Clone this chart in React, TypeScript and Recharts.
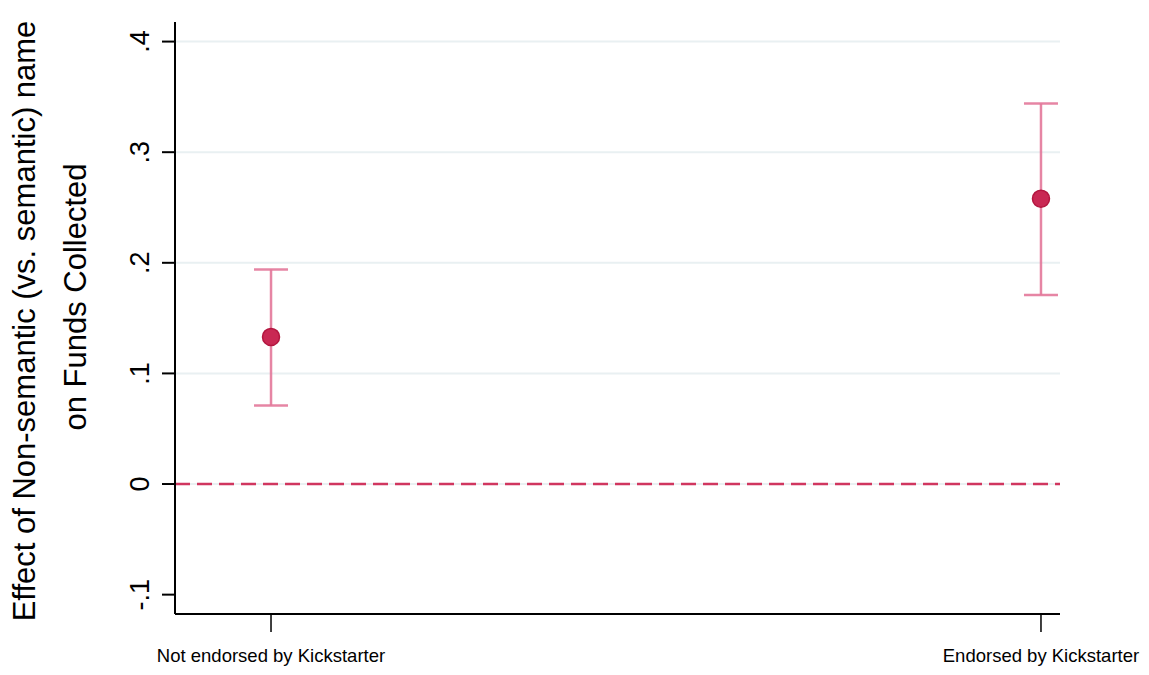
import React from 'react';
import {
  ComposedChart,
  Scatter,
  XAxis,
  YAxis,
  ErrorBar,
  ReferenceLine,
  Label,
} from 'recharts';

// group positions on the x axis and their labels
const groupPos = [0, 1];
const groupLabels = ['Not endorsed by Kickstarter', 'Endorsed by Kickstarter'];

// point estimates and 95% CI bounds
const estimates = [0.133, 0.258];
const ciLow = [0.071, 0.171];
const ciHigh = [0.194, 0.344];

const yTicks = [-0.1, 0, 0.1, 0.2, 0.3, 0.4];
const gridValues = [0, 0.1, 0.2, 0.3, 0.4];

const FONT = '"Liberation Sans", Arial, sans-serif';

const data = groupPos.map((x, i) => ({
  x,
  y: estimates[i],
  err: [estimates[i] - ciLow[i], ciHigh[i] - estimates[i]],
}));

const fmtY = (v: number) => {
  if (Math.abs(v) < 1e-9) return '0';
  return v.toFixed(1).replace('0.', '.');
};

const YTick = (props: any) => {
  const { y, payload } = props;
  const tx = 149;
  return (
    <text
      x={tx}
      y={y}
      transform={`rotate(-90 ${tx} ${y})`}
      textAnchor="middle"
      fontSize={27}
      fontFamily={FONT}
      fill="#000"
    >
      {fmtY(payload.value)}
    </text>
  );
};

const XTick = (props: any) => {
  const { x, payload } = props;
  const idx = groupPos.indexOf(payload.value);
  return (
    <text x={x} y={662} textAnchor="middle" fontSize={18.5} fontFamily={FONT} fill="#000">
      {idx >= 0 ? groupLabels[idx] : ''}
    </text>
  );
};

const YLabel = (props: any) => {
  const { viewBox } = props;
  const mid = viewBox.y + viewBox.height / 2;
  const c1 = mid + 3;
  const c2 = mid - 21;
  return (
    <g fontSize={31} fontFamily={FONT} fill="#000">
      <text x={35} y={c1} transform={`rotate(-90 35 ${c1})`} textAnchor="middle">
        Effect of Non-semantic (vs. semantic) name
      </text>
      <text x={86} y={c2} transform={`rotate(-90 86 ${c2})`} textAnchor="middle">
        on Funds Collected
      </text>
    </g>
  );
};

const Dot = (props: any) => {
  const { cx, cy } = props;
  return <circle cx={cx} cy={cy} r={8.5} fill="#c92853" stroke="#b3163f" strokeWidth={1.5} />;
};

export default function App() {
  return (
    <div style={{ width: 1149, height: 675, background: '#fff' }}>
      <style>{'body{margin:0}'}</style>
      <ComposedChart
        width={1149}
        height={675}
        data={data}
        margin={{ top: 22, right: 89, bottom: 0, left: 0 }}
      >
        <XAxis
          type="number"
          dataKey="x"
          domain={[-0.1247, 1.0247]}
          ticks={groupPos}
          tick={<XTick />}
          tickSize={18}
          height={61}
          stroke="#000"
          axisLine={{ stroke: '#000', strokeWidth: 2 }}
          tickLine={{ stroke: '#000', strokeWidth: 1.5 }}
          allowDataOverflow
        />
        <YAxis
          type="number"
          domain={[-0.1175, 0.4177]}
          ticks={yTicks}
          tick={<YTick />}
          tickSize={13}
          width={175}
          axisLine={{ stroke: '#000', strokeWidth: 2 }}
          tickLine={{ stroke: '#000', strokeWidth: 2 }}
          allowDataOverflow
        >
          <Label content={<YLabel />} />
        </YAxis>
        {gridValues.map((v) => (
          <ReferenceLine key={v} y={v} stroke="#e9f0f2" strokeWidth={2} />
        ))}
        <ReferenceLine y={0} stroke="#d0365f" strokeWidth={2.5} strokeDasharray="15 7" />
        <Scatter dataKey="y" shape={<Dot />} isAnimationActive={false}>
          <ErrorBar
            dataKey="err"
            direction="y"
            width={17}
            stroke="#e3789a"
            strokeOpacity={0.9}
            strokeWidth={2.5}
            isAnimationActive={false}
          />
        </Scatter>
      </ComposedChart>
    </div>
  );
}
